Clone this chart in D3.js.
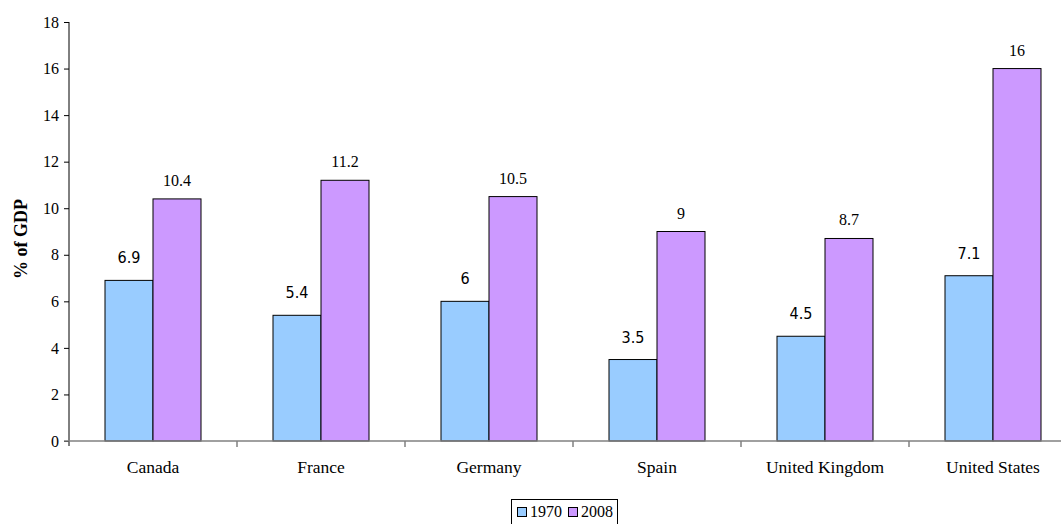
<!DOCTYPE html>
<html>
<head>
<meta charset="utf-8">
<script src="https://cdn.jsdelivr.net/npm/d3@7"></script>
<style>
  html, body { margin: 0; padding: 0; background: #fff; overflow: hidden; }
  svg { display: block; }
</style>
</head>
<body>
<svg id="chart" width="1061" height="524"></svg>
<script>
// Public spending share by country
const categories = ["Canada", "France", "Germany", "Spain", "United Kingdom", "United States"];
const seriesNames = ["1970", "2008"];
const values1970 = [6.9, 5.4, 6, 3.5, 4.5, 7.1];
const values2008 = [10.4, 11.2, 10.5, 9, 8.7, 16];
const yTicks = [0, 2, 4, 6, 8, 10, 12, 14, 16, 18];
const colors = ["#99ccff", "#cc99ff"];

const svg = d3.select("#chart");
const serif = "'Liberation Serif', 'Times New Roman', serif";
const sansCond = "'DejaVu Sans Condensed', 'DejaVu Sans', sans-serif";

const y = d3.scaleLinear().domain([0, 18]).range([441, 22]);
const x0 = d3.scaleBand().domain(categories).range([69, 1077]).paddingInner(0).paddingOuter(0);
const barW = 48;

// y axis
const yAxis = svg.append("g").attr("transform", "translate(69,0)")
  .call(d3.axisLeft(y).tickValues(yTicks).tickSize(5).tickPadding(5).tickFormat(d3.format("d")));
yAxis.select(".domain").attr("d", `M0,${y(18)}V446`).attr("stroke", "#000");
yAxis.selectAll(".tick line").attr("stroke", "#000");
yAxis.selectAll("text").attr("font-family", serif).attr("font-size", 16).attr("fill", "#000");

// y axis title
svg.append("text")
  .attr("transform", "translate(27,239) rotate(-90)")
  .attr("text-anchor", "middle")
  .attr("font-family", serif).attr("font-size", 18).attr("font-weight", "bold")
  .text("% of GDP");

// bars
const groups = svg.append("g").selectAll("g").data(categories).join("g")
  .attr("transform", d => `translate(${x0(d) + x0.bandwidth() / 2},0)`);

groups.append("rect")
  .attr("x", -barW).attr("width", barW)
  .attr("y", (d, i) => y(values1970[i])).attr("height", (d, i) => y(0) - y(values1970[i]))
  .attr("fill", colors[0]).attr("stroke", "#000").attr("stroke-width", 1);

groups.append("rect")
  .attr("x", 0).attr("width", barW)
  .attr("y", (d, i) => y(values2008[i])).attr("height", (d, i) => y(0) - y(values2008[i]))
  .attr("fill", colors[1]).attr("stroke", "#000").attr("stroke-width", 1);

// value labels
groups.append("text")
  .attr("x", -barW / 2).attr("y", (d, i) => y(values1970[i]) - 17)
  .attr("text-anchor", "middle")
  .attr("font-family", sansCond).attr("font-stretch", "condensed")
  .attr("font-size", 16).attr("fill", "#000")
  .text((d, i) => values1970[i]);

groups.append("text")
  .attr("x", barW / 2).attr("y", (d, i) => y(values2008[i]) - 13)
  .attr("text-anchor", "middle")
  .attr("font-family", serif).attr("font-size", 16).attr("fill", "#000")
  .text((d, i) => values2008[i]);

// x axis
const xAxis = svg.append("g").attr("transform", `translate(0,${y(0)})`)
  .call(d3.axisBottom(x0).tickSize(0).tickPadding(20));
xAxis.select(".domain").attr("d", "M64,0H1077").attr("stroke", "#808080").attr("stroke-width", 1.5);
xAxis.selectAll("text").attr("font-family", serif).attr("font-size", 17.5).attr("fill", "#000");
// separators between categories
svg.append("g").selectAll("line").data(categories.slice(1)).join("line")
  .attr("x1", d => x0(d)).attr("x2", d => x0(d))
  .attr("y1", y(0)).attr("y2", y(0) + 6)
  .attr("stroke", "#808080").attr("stroke-width", 1.5);

// legend
const legend = svg.append("g").attr("transform", "translate(511,499)");
legend.append("rect").attr("x", 0.5).attr("y", 0.5).attr("width", 106).attr("height", 30)
  .attr("fill", "#fff").attr("stroke", "#000");
const items = legend.selectAll("g").data(seriesNames).join("g")
  .attr("transform", (d, i) => `translate(${6 + i * 51},8)`);
items.append("rect").attr("x", 0.5).attr("y", 0.5).attr("width", 9).attr("height", 9)
  .attr("fill", (d, i) => colors[i]).attr("stroke", "#000");
items.append("text").attr("x", 13).attr("y", 9.5)
  .attr("font-family", serif).attr("font-size", 16).attr("fill", "#000")
  .text(d => d);
</script>
</body>
</html>
